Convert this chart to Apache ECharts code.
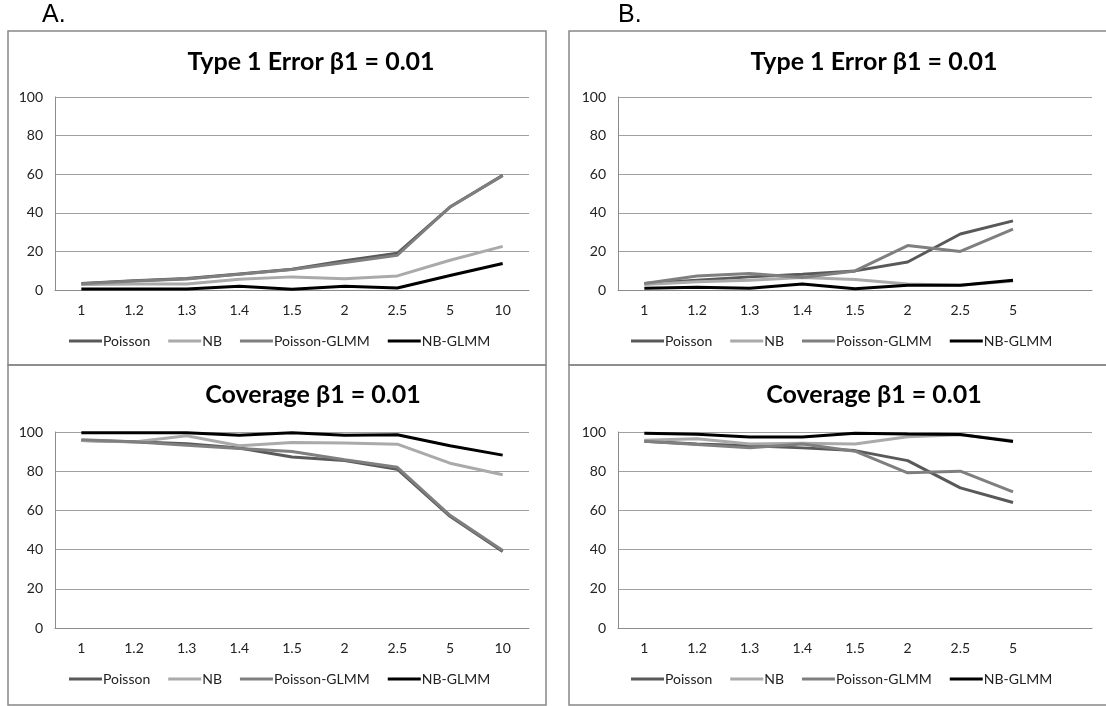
<!DOCTYPE html>
<html>
<head>
<meta charset="utf-8">
<script src="https://cdn.jsdelivr.net/npm/echarts@6/dist/echarts.min.js"></script>
<style>
  html, body { margin: 0; padding: 0; background: #fff; }
  #chartsDom { width: 1106px; height: 706px; }
</style>
</head>
<body>
<div id="chartsDom"></div>
<script>
// dispersion categories (panel B has an empty last slot)
const doseA = ["1", "1.2", "1.3", "1.4", "1.5", "2", "2.5", "5", "10"];
const doseB = ["1", "1.2", "1.3", "1.4", "1.5", "2", "2.5", "5", ""];
const yTicks = [0, 20, 40, 60, 80, 100];
const seriesNames = ["Poisson", "NB", "Poisson-GLMM", "NB-GLMM"];

// A. type 1 error
const errA_poisson = [3.4, 4.8, 5.9, 8.3, 10.7, 15.2, 19.0, 43.0, 59.5];
const errA_nb = [2.9, 3.1, 3.1, 5.6, 6.8, 5.8, 7.3, 15.4, 22.6];
const errA_pglmm = [3.2, 4.6, 5.7, 8.1, 10.6, 14.3, 18.0, 43.0, 59.2];
const errA_nbglmm = [0.5, 0.5, 0.5, 1.9, 0.4, 2.0, 1.0, 7.5, 13.7];

// A. coverage
const covA_poisson = [95.7, 95.0, 94.0, 91.8, 87.2, 85.5, 81.0, 57.0, 39.0];
const covA_nb = [95.6, 94.9, 98.1, 93.0, 94.7, 94.4, 93.8, 84.1, 78.2];
const covA_pglmm = [96.0, 95.0, 93.3, 91.6, 90.0, 85.8, 82.0, 57.5, 39.5];
const covA_nbglmm = [99.6, 99.6, 99.6, 98.4, 99.6, 98.4, 98.6, 93.0, 88.2];

// B. type 1 error
const errB_poisson = [3.4, 5.1, 6.8, 8.2, 9.9, 14.5, 29.0, 35.8];
const errB_nb = [2.9, 4.3, 5.1, 6.5, 5.5, 3.1, 2.4, 4.6];
const errB_pglmm = [3.4, 7.2, 8.5, 6.5, 9.9, 23.0, 20.0, 31.5];
const errB_nbglmm = [0.9, 1.4, 0.9, 3.1, 0.7, 2.4, 2.4, 5.0];

// B. coverage
const covB_poisson = [95.3, 93.9, 93.0, 91.9, 90.5, 85.4, 71.5, 64.0];
const covB_nb = [95.8, 96.5, 93.9, 94.2, 93.9, 97.6, 98.6, 95.5];
const covB_pglmm = [95.3, 93.6, 91.9, 93.9, 90.2, 79.2, 80.0, 69.5];
const covB_nbglmm = [99.4, 98.8, 97.4, 97.4, 99.4, 99.0, 98.7, 95.2];

const colors = ["#595959", "#aaaaaa", "#7f7f7f", "#000000"];
const font = "Lato";

// panel layout: grid left / top / height, title centre, legend left / top
const panels = [
  { cats: doseA, data: [errA_poisson, errA_nb, errA_pglmm, errA_nbglmm], title: "Type 1 Error \u03b21 = 0.01",
    left: 55, top: 97, height: 193, titleX: 311, titleY: 49, legendX: 69, legendY: 334 },
  { cats: doseA, data: [covA_poisson, covA_nb, covA_pglmm, covA_nbglmm], title: "Coverage \u03b21 = 0.01",
    left: 55, top: 432, height: 196, titleX: 313, titleY: 382, legendX: 69, legendY: 672 },
  { cats: doseB, data: [errB_poisson, errB_nb, errB_pglmm, errB_nbglmm], title: "Type 1 Error \u03b21 = 0.01",
    left: 618, top: 97, height: 193, titleX: 874, titleY: 49, legendX: 631, legendY: 334 },
  { cats: doseB, data: [covB_poisson, covB_nb, covB_pglmm, covB_nbglmm], title: "Coverage \u03b21 = 0.01",
    left: 618, top: 432, height: 196, titleX: 874, titleY: 382, legendX: 631, legendY: 672 }
];

const myChart = echarts.init(document.getElementById("chartsDom"));

let grid = [], xAxis = [], yAxis = [], series = [], title = [], legend = [];
panels.forEach((p, i) => {
  grid.push({ left: p.left, top: p.top, width: 474, height: p.height });
  title.push({
    text: p.title, left: p.titleX, top: p.titleY, textAlign: "center", padding: 0,
    textStyle: { fontFamily: font, fontSize: 25, fontWeight: "bold", color: "#000" }
  });
  legend.push({
    data: seriesNames, left: p.legendX, top: p.legendY, icon: "rect",
    itemWidth: 33, itemHeight: 3, itemGap: 18, padding: 0,
    textStyle: { fontFamily: font, fontSize: 14, color: "#222", padding: [0, 0, 0, -4] }
  });
  xAxis.push({
    type: "category", gridIndex: i, data: p.cats, boundaryGap: true,
    axisLine: { lineStyle: { color: "#8c8c8c", width: 1 } },
    axisTick: { show: false },
    axisLabel: { fontFamily: font, fontSize: 14, color: "#222", margin: 13, interval: 0 }
  });
  yAxis.push({
    type: "value", gridIndex: i, min: yTicks[0], max: yTicks[yTicks.length - 1], interval: 20,
    axisLine: { show: true, lineStyle: { color: "#8c8c8c", width: 1 } },
    axisTick: { show: false },
    splitLine: { lineStyle: { color: "#a0a0a0", width: 1 } },
    axisLabel: { fontFamily: font, fontSize: 14, color: "#222", margin: 12 }
  });
  p.data.forEach((d, k) => {
    series.push({
      name: seriesNames[k], type: "line", xAxisIndex: i, yAxisIndex: i, data: d,
      symbol: "none", lineStyle: { width: 3, color: colors[k] }, itemStyle: { color: colors[k] },
      animation: false
    });
  });
});

// panel frames and letters
const frame = (x, y, w, h) => ({
  type: "rect", shape: { x: x, y: y, width: w, height: h },
  style: { fill: "none", stroke: "#888", lineWidth: 1.5 }, silent: true
});
const graphic = [
  frame(8, 31, 538, 334), frame(8, 365, 538, 340),
  frame(569, 31, 545, 334), frame(569, 365, 545, 340),
  { type: "text", left: 42, top: 3, style: { text: "A.", font: "25px 'Liberation Sans'", fill: "#000" } },
  { type: "text", left: 618, top: 3, style: { text: "B.", font: "25px 'Liberation Sans'", fill: "#000" } }
];

let option = { animation: false, title, legend, grid, xAxis, yAxis, series, graphic };
option && myChart.setOption(option);
</script>
</body>
</html>
